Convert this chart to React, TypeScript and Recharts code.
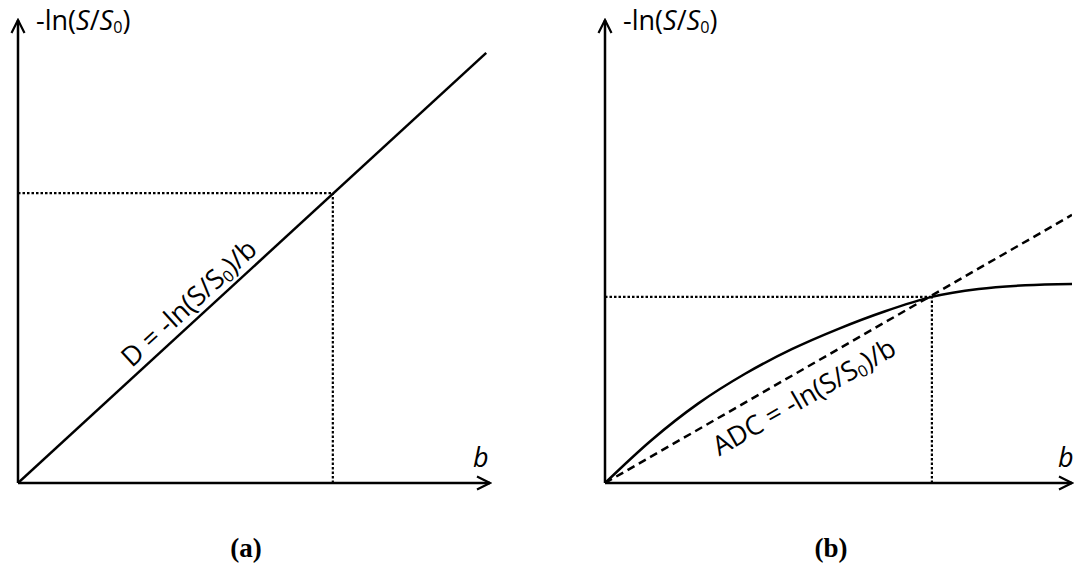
import React from 'react';
import {
  LineChart,
  Line,
  XAxis,
  YAxis,
  ReferenceLine,
} from 'recharts';

// panel (a): straight line through origin
const linearA = [
  { x: 0, y: 0 },
  { x: 9.92, y: 9.29 },
];
const markA = { x: 6.67, y: 6.26 };

// panel (b): measured curve and the secant through the mark
const curveB = [
  { x: 0, y: 0 },
  { x: 1, y: 0.93 },
  { x: 2, y: 1.72 },
  { x: 3, y: 2.36 },
  { x: 4, y: 2.89 },
  { x: 5, y: 3.33 },
  { x: 6, y: 3.71 },
  { x: 7, y: 4.02 },
  { x: 8, y: 4.19 },
  { x: 9, y: 4.27 },
  { x: 10, y: 4.3 },
];
const secantB = [
  { x: 0, y: 0 },
  { x: 10, y: 5.79 },
];
const markB = { x: 7.0, y: 4.02 };

const DOMAIN: [number, number] = [0, 10];
const FONT = '"Open Sans", "Noto Sans", sans-serif';
const DOTTED = '2.5 2';

function Ratio({ italic = true }: { italic?: boolean }) {
  const s = italic ? <i>S</i> : 'S';
  return (
    <>
      -ln({s}/{s}
      <sub style={{ fontSize: '0.6em', verticalAlign: '-0.2em' }}>0</sub>)
    </>
  );
}

function Arrow({ id }: { id: string }) {
  return (
    <defs>
      <marker
        id={id}
        markerUnits="userSpaceOnUse"
        markerWidth={18}
        markerHeight={18}
        viewBox="0 0 18 18"
        refX={16}
        refY={9}
        orient="auto-start-reverse"
      >
        <path d="M3,2.5 L16,9 L3,15.5" fill="none" stroke="#000" strokeWidth={2.2} />
      </marker>
    </defs>
  );
}

function Axes({ id }: { id: string }) {
  return [
    <XAxis
      key="x"
      type="number"
      dataKey="x"
      domain={DOMAIN}
      allowDataOverflow
      height={30}
      tick={false}
      tickLine={false}
      axisLine={{ stroke: '#000', strokeWidth: 2.5, markerEnd: `url(#${id})` }}
    />,
    <YAxis
      key="y"
      type="number"
      domain={DOMAIN}
      allowDataOverflow
      width={18}
      tick={false}
      tickLine={false}
      axisLine={{ stroke: '#000', strokeWidth: 2.5, markerStart: `url(#${id})` }}
    />,
  ];
}

const textStyle: React.CSSProperties = {
  position: 'absolute',
  fontFamily: FONT,
  color: '#000',
  whiteSpace: 'nowrap',
  lineHeight: 1,
};

const labelStyle: React.CSSProperties = {
  ...textStyle,
  fontSize: 27,
  fontWeight: 'bold',
  fontFamily: '"Liberation Serif", serif',
  transform: 'translate(-50%, -50%)',
};

export default function App() {
  return (
    <div style={{ position: 'absolute', left: 0, top: 0, width: 1074, height: 575, background: '#fff' }}>
      <div style={{ position: 'absolute', left: 0, top: 0 }}>
        <LineChart width={540} height={575} margin={{ top: 20, left: 0, right: 50, bottom: 62 }}>
          <Arrow id="arrA" />
          {Axes({ id: 'arrA' })}
          <ReferenceLine
            segment={[{ x: 0, y: markA.y }, { x: markA.x, y: markA.y }]}
            stroke="#000"
            strokeWidth={2.2}
            strokeDasharray={DOTTED}
          />
          <ReferenceLine
            segment={[{ x: markA.x, y: 0 }, { x: markA.x, y: markA.y }]}
            stroke="#000"
            strokeWidth={2.2}
            strokeDasharray={DOTTED}
          />
          <Line
            data={linearA}
            dataKey="y"
            type="linear"
            stroke="#000"
            strokeWidth={2.5}
            dot={false}
            isAnimationActive={false}
          />
        </LineChart>
      </div>
      <div style={{ position: 'absolute', left: 587, top: 0 }}>
        <LineChart width={487} height={575} margin={{ top: 20, left: 0, right: 2, bottom: 62 }}>
          <Arrow id="arrB" />
          {Axes({ id: 'arrB' })}
          <ReferenceLine
            segment={[{ x: 0, y: markB.y }, { x: markB.x, y: markB.y }]}
            stroke="#000"
            strokeWidth={2.2}
            strokeDasharray={DOTTED}
          />
          <ReferenceLine
            segment={[{ x: markB.x, y: 0 }, { x: markB.x, y: markB.y }]}
            stroke="#000"
            strokeWidth={2.2}
            strokeDasharray={DOTTED}
          />
          <Line
            data={secantB}
            dataKey="y"
            type="linear"
            stroke="#000"
            strokeWidth={2.5}
            strokeDasharray="8 5"
            dot={false}
            isAnimationActive={false}
          />
          <Line
            data={curveB}
            dataKey="y"
            type="monotone"
            stroke="#000"
            strokeWidth={2.5}
            dot={false}
            isAnimationActive={false}
          />
        </LineChart>
      </div>

      <div style={{ ...textStyle, left: 36, top: 6, fontSize: 27 }}><Ratio /></div>
      <div style={{ ...textStyle, left: 623, top: 6, fontSize: 27 }}><Ratio /></div>
      <div style={{ ...textStyle, left: 473, top: 443, fontSize: 27, fontStyle: 'italic' }}>b</div>
      <div style={{ ...textStyle, left: 1058, top: 443, fontSize: 27, fontStyle: 'italic' }}>b</div>

      <div
        style={{
          ...textStyle,
          left: 189,
          top: 303,
          fontSize: 27,
          transform: 'translate(-50%, -50%) rotate(-42.6deg)',
        }}
      >
        D = <Ratio italic={false} />/b
      </div>
      <div
        style={{
          ...textStyle,
          left: 804,
          top: 397,
          fontSize: 27,
          transform: 'translate(-50%, -50%) rotate(-29.9deg)',
        }}
      >
        ADC = <Ratio italic={false} />/b
      </div>

      <div style={{ ...labelStyle, left: 246, top: 548 }}>(a)</div>
      <div style={{ ...labelStyle, left: 831, top: 548 }}>(b)</div>
    </div>
  );
}
